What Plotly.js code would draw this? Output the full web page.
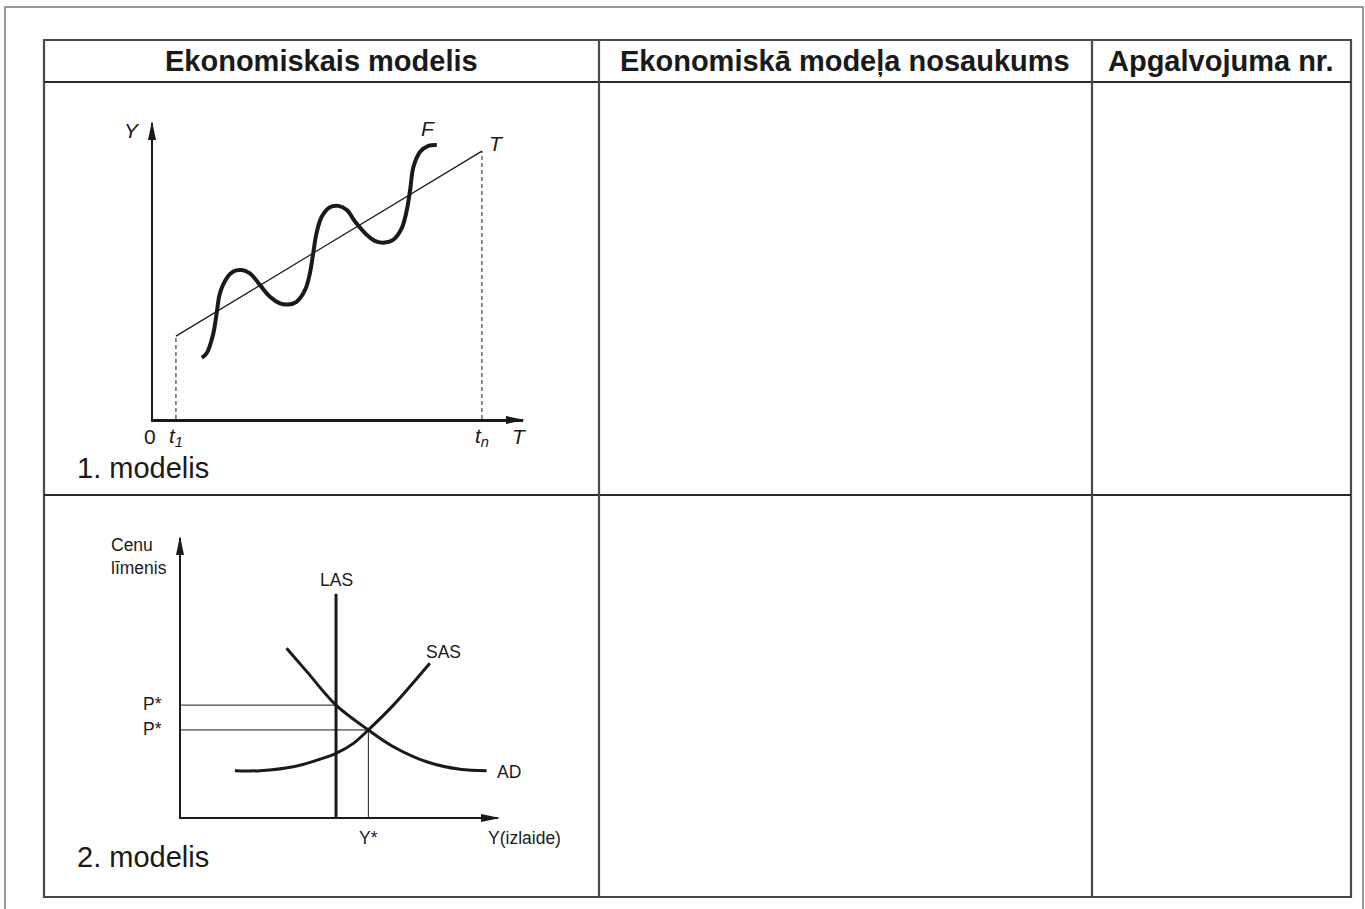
<!DOCTYPE html>
<html><head><meta charset="utf-8">
<script src="https://cdn.plot.ly/plotly-3.0.1.min.js"></script>
<style>html,body{margin:0;padding:0;background:#fff;}#chart{width:1365px;height:909px;}</style>
</head><body><div id="chart"></div>
<script>
// ---- table text ----
const headers = ['Ekonomiskais modelis', 'Ekonomiskā modeļa nosaukums', 'Apgalvojuma nr.'];
const rowLabels = ['1. modelis', '2. modelis'];

// ---- model 1: fluctuations F around trend T ----
const fX = [1.32,1.45,1.63,1.72,1.81,1.99,2.17,2.40,2.62,2.89,3.16,3.43,3.66,3.88,4.11,4.24,4.33,4.42,4.56,4.78,5.01,5.24,5.46,5.78,6.05,6.27,6.49,6.72,6.86,6.95,7.04,7.22,7.44,7.67];
const fY = [2.07,2.22,2.89,3.57,4.25,4.75,4.98,5.03,4.92,4.53,4.13,3.91,3.87,3.96,4.36,4.92,5.60,6.28,6.83,7.15,7.20,7.06,6.67,6.22,5.99,5.96,6.05,6.44,7.06,7.74,8.52,9.03,9.23,9.26];
const trendX = [0.62, 8.89];
const trendY = [2.80, 9.05];
const timeTicks = [0.62, 8.89];
const timeLabels = ['<i>t<sub>1</sub></i>', '<i>t<sub>n</sub></i>'];

// ---- model 2: AD / SAS / LAS ----
const adX = [3.33,3.97,4.89,5.91,6.70,7.75,8.80,9.64];
const adY = [6.05,5.21,4.01,3.12,2.52,1.98,1.71,1.66];
const sasX = [1.70,2.49,3.54,4.38,4.89,5.44,5.91,6.70,7.85];
const sasY = [1.66,1.66,1.80,2.07,2.28,2.64,3.12,4.01,5.51];
const lasX = 4.89, lasTop = 8.0;
const pHigh = 4.01, pEq = 3.12, yStar = 5.91;

const W = 1365, H = 909;
const px = v => v / W, py = v => 1 - v / H;
const FONT = 'Liberation Sans, Arial, Helvetica, sans-serif';
const INK = '#1a1a1a';

const traces = [
  {x: fX, y: fY, xaxis: 'x', yaxis: 'y', mode: 'lines', line: {shape: 'spline', smoothing: 1, width: 4, color: INK}},
  {x: trendX, y: trendY, xaxis: 'x', yaxis: 'y', mode: 'lines', line: {width: 1.2, color: INK}},
  {x: [timeTicks[0], timeTicks[0]], y: [0, trendY[0]], xaxis: 'x', yaxis: 'y', mode: 'lines', line: {width: 1, color: INK, dash: '4px,3px'}},
  {x: [timeTicks[1], timeTicks[1]], y: [0, trendY[1]], xaxis: 'x', yaxis: 'y', mode: 'lines', line: {width: 1, color: INK, dash: '4px,3px'}},
  {x: [0, lasX], y: [pHigh, pHigh], xaxis: 'x2', yaxis: 'y2', mode: 'lines', line: {width: 1, color: INK}},
  {x: [0, yStar, yStar], y: [pEq, pEq, 0], xaxis: 'x2', yaxis: 'y2', mode: 'lines', line: {width: 1, color: INK}},
  {x: [lasX, lasX], y: [0, lasTop], xaxis: 'x2', yaxis: 'y2', mode: 'lines', line: {width: 3, color: INK}},
  {x: adX, y: adY, xaxis: 'x2', yaxis: 'y2', mode: 'lines', line: {shape: 'spline', width: 3, color: INK}},
  {x: sasX, y: sasY, xaxis: 'x2', yaxis: 'y2', mode: 'lines', line: {shape: 'spline', width: 3, color: INK}}
];

function ax(domain, anchor, lw) {
  return {domain: domain, range: [0, 10], anchor: anchor, showgrid: false, zeroline: false,
          showticklabels: false, ticks: '', showline: true, linecolor: INK, linewidth: lw, fixedrange: true};
}

const lineC = '#4a4a4a';
const shapes = [
  {type: 'rect', xref: 'paper', yref: 'paper', x0: px(5), x1: px(1363), y0: py(915), y1: py(7), line: {color: '#777', width: 1.5}},
  {type: 'rect', xref: 'paper', yref: 'paper', x0: px(44), x1: px(1351), y0: py(897), y1: py(40), line: {color: lineC, width: 2.2}},
  {type: 'line', xref: 'paper', yref: 'paper', x0: px(44), x1: px(1351), y0: py(82), y1: py(82), line: {color: '#2a2a2a', width: 2}},
  {type: 'line', xref: 'paper', yref: 'paper', x0: px(44), x1: px(1351), y0: py(495), y1: py(495), line: {color: '#2a2a2a', width: 2}},
  {type: 'line', xref: 'paper', yref: 'paper', x0: px(599), x1: px(599), y0: py(897), y1: py(40), line: {color: lineC, width: 2.2}},
  {type: 'line', xref: 'paper', yref: 'paper', x0: px(1092), x1: px(1092), y0: py(897), y1: py(40), line: {color: lineC, width: 2.2}}
];
[['x', 'y'], ['x2', 'y2']].forEach(([xa, ya]) => {
  shapes.push({type: 'path', xref: xa + ' domain', yref: ya + ' domain', xsizemode: 'pixel', ysizemode: 'pixel',
    xanchor: 0, yanchor: 1, path: 'M-1,2 L-5,-17 L3,-17 Z', fillcolor: INK, line: {width: 0}});
  shapes.push({type: 'path', xref: xa + ' domain', yref: ya + ' domain', xsizemode: 'pixel', ysizemode: 'pixel',
    xanchor: 1, yanchor: 0, path: 'M2,-1 L-17,3 L-17,-5 Z', fillcolor: INK, line: {width: 0}});
});

const colCenters = [321, 845, 1221];
const ann = [];
headers.forEach((h, i) => ann.push({xref: 'paper', yref: 'paper', x: px(colCenters[i]), y: py(61), text: '<b>' + h + '</b>',
  showarrow: false, xanchor: 'center', yanchor: 'middle', font: {family: FONT, size: 29, color: INK}}));
[468, 857].forEach((yy, i) => ann.push({xref: 'paper', yref: 'paper', x: px(75), y: py(yy), text: rowLabels[i],
  showarrow: false, xanchor: 'left', yanchor: 'middle', font: {family: FONT, size: 29, color: INK}}));

const f1 = {family: FONT, size: 21, color: INK};
const f2 = {family: FONT, size: 17.5, color: INK};
function a(o) { ann.push(Object.assign({showarrow: false, xanchor: 'center', yanchor: 'middle'}, o)); }
// model 1 labels
a({xref: 'paper', yref: 'paper', x: px(132), y: py(130), text: '<i>Y</i>', font: f1});
a({xref: 'x', yref: 'y', x: fX[fX.length - 1], y: fY[fY.length - 1], xshift: -9, yshift: 16, text: '<i>F</i>', font: f1});
a({xref: 'x', yref: 'y', x: trendX[1], y: trendY[1], xshift: 15, yshift: 8, text: '<i>T</i>', font: f1});
a({xref: 'paper', yref: 'paper', x: px(150), y: py(436), text: '0', font: f1});
timeTicks.forEach((t, i) => a({xref: 'x', yref: 'y', x: t, y: 0, yshift: -18, text: timeLabels[i], font: f1}));
a({xref: 'paper', yref: 'paper', x: px(519), y: py(436), text: '<i>T</i>', font: f1});
// model 2 labels
a({xref: 'paper', yref: 'paper', x: px(109), y: py(556), xanchor: 'left', align: 'left', text: 'Cenu<br>līmenis', font: f2});
a({xref: 'x2', yref: 'y2', x: lasX, y: lasTop, yshift: 14, text: 'LAS', font: f2});
a({xref: 'x2', yref: 'y2', x: sasX[sasX.length - 1], y: sasY[sasY.length - 1], xshift: 14, yshift: 11, text: 'SAS', font: f2});
a({xref: 'x2', yref: 'y2', x: adX[adX.length - 1], y: adY[adY.length - 1], xshift: 8, yshift: -1, xanchor: 'left', text: 'AD', font: f2});
a({xref: 'x2', yref: 'y2', x: 0, y: pHigh, xshift: -17, yshift: 1, xanchor: 'right', text: 'P*', font: f2});
a({xref: 'x2', yref: 'y2', x: 0, y: pEq, xshift: -17, yshift: 1, xanchor: 'right', text: 'P*', font: f2});
a({xref: 'x2', yref: 'y2', x: yStar, y: 0, yshift: -21, text: 'Y*', font: f2});
a({xref: 'paper', yref: 'paper', x: px(524), y: py(838), text: 'Y(izlaide)', font: f2});

const layout = {
  width: W, height: H, margin: {l: 0, r: 0, t: 0, b: 0},
  paper_bgcolor: '#fff', plot_bgcolor: 'rgba(0,0,0,0)', showlegend: false,
  xaxis: ax([153 / W, 523 / W], 'y', 2.5),
  yaxis: ax([1 - 419 / H, 1 - 123 / H], 'x', 2.5),
  xaxis2: ax([181 / W, 498 / W], 'y2', 2),
  yaxis2: ax([1 - 817 / H, 1 - 538 / H], 'x2', 2),
  shapes: shapes, annotations: ann
};
Plotly.newPlot('chart', traces, layout, {displayModeBar: false, staticPlot: true});
</script></body></html>
